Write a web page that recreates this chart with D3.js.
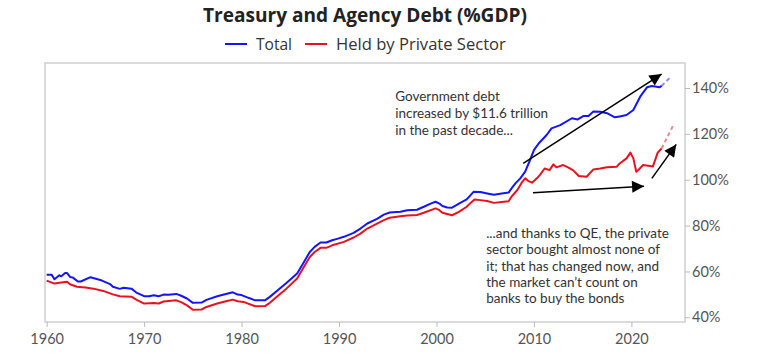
<!DOCTYPE html>
<html>
<head>
<meta charset="utf-8">
<script src="https://cdn.jsdelivr.net/npm/d3@7"></script>
<style>
  body { margin: 0; background: #fff; }
  svg { display: block; font-family: Lato, "Open Sans", sans-serif; }
</style>
</head>
<body>
<svg id="chart" width="771" height="361"></svg>
<script>
// series: [year, % of GDP]
const totalSeries = [
  [1960.0, 58.6], [1960.5, 58.6], [1960.8, 56.6], [1961.3, 58.3], [1961.5, 57.9], [1961.9, 59.3],
  [1962.1, 59.3], [1962.4, 57.6], [1962.7, 57.3], [1963.2, 55.6], [1963.5, 55.6], [1964.5, 57.5],
  [1965.5, 56.3], [1966.5, 54.5], [1966.8, 53.3], [1967.5, 52.4], [1967.9, 52.9], [1968.7, 52.5],
  [1969.2, 50.8], [1970.0, 49.2], [1970.5, 49.2], [1971.0, 49.6], [1971.5, 49.2], [1972.0, 49.9],
  [1972.5, 49.8], [1973.3, 50.2], [1973.8, 49.4], [1974.4, 48.2], [1975.0, 46.3], [1975.9, 46.4],
  [1976.4, 47.6], [1977.5, 49.2], [1978.5, 50.3], [1979.1, 50.9], [1979.6, 49.9], [1980.0, 49.7],
  [1980.7, 48.5], [1981.4, 47.4], [1982.4, 47.4], [1982.9, 48.9], [1983.8, 52.1], [1984.6, 55.0],
  [1985.7, 59.1], [1986.3, 63.4], [1987.0, 68.5], [1987.5, 70.7], [1988.1, 72.6], [1988.7, 72.6],
  [1989.3, 73.6], [1989.8, 74.2], [1990.5, 75.1], [1991.5, 76.8], [1992.2, 78.7], [1992.9, 80.9],
  [1993.9, 82.9], [1994.6, 84.8], [1995.2, 85.7], [1996.3, 86.0], [1997.0, 86.7], [1998.0, 86.9],
  [1998.7, 88.2], [1999.4, 89.6], [1999.9, 90.4], [2000.3, 89.6], [2000.6, 88.5], [2001.1, 87.9],
  [2001.6, 87.8], [2002.3, 89.6], [2003.1, 91.4], [2003.5, 93.3], [2003.8, 94.7], [2004.5, 94.6],
  [2005.2, 94.0], [2005.9, 93.4], [2006.7, 94.0], [2007.4, 94.4], [2007.7, 96.2], [2008.1, 98.4],
  [2008.6, 100.6], [2009.1, 103.5], [2009.6, 108.6], [2010.0, 112.9], [2010.5, 115.9], [2011.3, 119.5],
  [2011.8, 122.4], [2012.7, 123.8], [2013.9, 126.8], [2014.5, 126.3], [2015.1, 127.8], [2015.6, 127.8],
  [2016.1, 129.7], [2016.8, 129.6], [2017.5, 129.0], [2018.3, 127.2], [2018.8, 127.6], [2019.5, 128.2],
  [2020.2, 130.4], [2020.9, 136.2], [2021.6, 140.3], [2022.1, 140.9], [2022.9, 140.3], [2023.1, 140.9]
];
const totalProjection = [[2023.1, 140.9], [2024.1, 145.2]];

const privateSeries = [
  [1960.0, 56.0], [1960.8, 54.7], [1961.5, 55.2], [1962.1, 55.5], [1962.4, 54.4], [1963.1, 53.3],
  [1964.0, 53.0], [1964.8, 52.5], [1965.8, 51.5], [1966.8, 50.0], [1967.5, 49.2], [1968.7, 49.0],
  [1969.2, 47.7], [1970.0, 46.0], [1971.0, 46.2], [1971.5, 46.0], [1972.0, 46.9], [1973.3, 47.4],
  [1973.8, 46.6], [1974.4, 45.2], [1975.0, 43.3], [1975.9, 43.4], [1976.4, 44.5], [1977.5, 46.0],
  [1978.5, 47.1], [1979.1, 47.7], [1979.6, 47.0], [1980.2, 46.7], [1981.4, 44.8], [1982.4, 44.9],
  [1982.9, 46.3], [1983.8, 49.6], [1984.6, 52.5], [1985.7, 56.9], [1986.3, 61.3], [1987.0, 66.3],
  [1987.5, 68.5], [1988.1, 70.3], [1988.7, 70.3], [1989.3, 71.4], [1990.5, 72.9], [1991.5, 74.8],
  [1992.2, 76.5], [1992.9, 78.7], [1993.9, 80.9], [1994.6, 82.4], [1995.2, 83.4], [1996.3, 84.1],
  [1997.0, 84.4], [1998.0, 84.6], [1998.7, 85.6], [1999.9, 87.5], [2000.3, 86.7], [2000.6, 85.6],
  [2001.6, 84.5], [2002.3, 86.0], [2003.1, 88.2], [2003.5, 89.9], [2003.9, 91.4], [2004.5, 91.1],
  [2005.2, 90.7], [2005.9, 89.9], [2006.7, 90.3], [2007.4, 90.6], [2007.7, 92.6], [2008.3, 95.5],
  [2008.8, 99.1], [2009.1, 100.6], [2009.4, 99.5], [2009.8, 98.7], [2010.3, 100.6], [2010.6, 102.0],
  [2011.1, 104.9], [2011.6, 104.2], [2012.0, 106.7], [2012.3, 105.4], [2013.0, 106.4], [2013.5, 105.4],
  [2014.0, 104.2], [2014.6, 101.6], [2015.4, 101.3], [2016.1, 104.5], [2016.8, 104.9], [2017.5, 105.4],
  [2018.5, 105.7], [2018.8, 107.1], [2019.5, 109.3], [2019.9, 111.8], [2020.2, 109.3], [2020.5, 103.5],
  [2020.7, 104.2], [2021.2, 106.4], [2021.9, 106.0], [2022.2, 105.7], [2022.7, 111.8], [2023.1, 113.6]
];
const privateProjection = [[2023.1, 113.6], [2024.3, 123.8]];

const xTicks = [1960, 1970, 1980, 1990, 2000, 2010, 2020];
const yTicks = [40, 60, 80, 100, 120, 140];
const legendLabels = ['Total', 'Held by Private Sector'];

// arrows: [fromYear, fromValue, toYear, toValue]
const arrows = [
  [2008.9, 107.1, 2023.1, 146.1],
  [2009.9, 94.3, 2021.3, 97.2],
  [2022.1, 100.6, 2024.6, 115.4]
];
const noteTotal = ['Government debt', 'increased by $11.6 trillion', 'in the past decade...'];
const notePrivate = ['...and thanks to QE, the private', 'sector bought almost none of',
  'it; that has changed now, and', 'the market can\u2019t count on', 'banks to buy the bonds'];

const blue = '#1414ff';
const red = '#e8121f';
const plot = {left: 45, right: 685, top: 63, bottom: 322};

const svg = d3.select('#chart');

const xScale = d3.scaleLinear().domain([1959.83, 2025.5]).range([plot.left, plot.right]);
const yScale = d3.scaleLinear().domain([37.95, 150.9]).range([plot.bottom, plot.top]);

// scale a text element's font so it spans the wanted width
function fitWidth(sel, width) {
  const size = parseFloat(sel.style('font-size'));
  const len = sel.node().getComputedTextLength();
  sel.style('font-size', (size * width / len).toFixed(2) + 'px');
}

// title
const title = svg.append('text')
  .attr('x', (plot.left + plot.right) / 2)
  .attr('y', 22)
  .attr('text-anchor', 'middle')
  .style('font-family', '"Open Sans", sans-serif')
  .style('font-size', '17px')
  .style('font-weight', 'bold')
  .style('fill', '#222')
  .text('Treasury and Agency Debt (%GDP)');
fitWidth(title, 324);

// legend
const legend = svg.append('g').attr('transform', 'translate(225,44)');
const legendItems = [{label: legendLabels[0], color: blue, x: 0, w: 36}, {label: legendLabels[1], color: red, x: 80, w: 170}];
legendItems.forEach(item => {
  legend.append('line')
    .attr('x1', item.x).attr('x2', item.x + 22)
    .attr('y1', 0).attr('y2', 0)
    .attr('stroke', item.color).attr('stroke-width', 2);
  const t = legend.append('text')
    .attr('x', item.x + 31).attr('y', 5.5)
    .style('font-family', '"Open Sans", sans-serif')
    .style('font-size', '15px')
    .style('fill', '#333')
    .text(item.label);
  fitWidth(t, item.w);
});

// frame
svg.append('rect')
  .attr('x', plot.left).attr('y', plot.top)
  .attr('width', plot.right - plot.left).attr('height', plot.bottom - plot.top)
  .attr('fill', 'none').attr('stroke', '#cfcfcf').attr('stroke-width', 1.5);

// axes
const xAxis = svg.append('g')
  .attr('transform', 'translate(0,' + plot.bottom + ')')
  .call(d3.axisBottom(xScale).tickValues(xTicks).tickFormat(d3.format('d')).tickSize(5).tickSizeOuter(0));

const yAxis = svg.append('g')
  .attr('transform', 'translate(' + plot.right + ',0)')
  .call(d3.axisRight(yScale).tickValues(yTicks).tickFormat(d => d + '%').tickSize(5).tickSizeOuter(0));

[xAxis, yAxis].forEach(axis => {
  axis.select('.domain').remove();
  axis.selectAll('line').attr('stroke', '#bbb');
  axis.selectAll('text')
    .style('font-family', 'Lato, sans-serif')
    .style('font-size', '14.5px')
    .style('fill', '#555');
});
xAxis.selectAll('text').attr('dy', '0.95em');
yAxis.selectAll('text').attr('x', 7);

// lines
const line = d3.line().x(d => xScale(d[0])).y(d => yScale(d[1]));

const seriesDefs = [
  {data: totalSeries, color: blue, dashed: false},
  {data: totalProjection, color: blue, dashed: true},
  {data: privateSeries, color: red, dashed: false},
  {data: privateProjection, color: red, dashed: true}
];

svg.append('g').selectAll('path')
  .data(seriesDefs)
  .enter()
  .append('path')
  .attr('d', d => line(d.data))
  .attr('fill', 'none')
  .attr('stroke', d => d.color)
  .attr('stroke-width', 2)
  .attr('stroke-opacity', d => d.dashed ? 0.5 : 1)
  .attr('stroke-dasharray', d => d.dashed ? '4,3' : null)
  .attr('stroke-linejoin', 'round');

// arrows
svg.append('defs').append('marker')
  .attr('id', 'arrowHead')
  .attr('viewBox', '0 0 10 10')
  .attr('refX', 10).attr('refY', 5)
  .attr('markerWidth', 16).attr('markerHeight', 12)
  .attr('markerUnits', 'userSpaceOnUse')
  .attr('orient', 'auto')
  .append('path')
  .attr('d', 'M0,0L10,5L0,10Z')
  .attr('fill', '#000');

svg.append('g').selectAll('line')
  .data(arrows)
  .enter()
  .append('line')
  .attr('x1', d => xScale(d[0])).attr('y1', d => yScale(d[1]))
  .attr('x2', d => xScale(d[2])).attr('y2', d => yScale(d[3]))
  .attr('stroke', '#000')
  .attr('stroke-width', 1.5)
  .attr('marker-end', 'url(#arrowHead)');

// annotations
function note(lines, year, value, lineHeight) {
  const t = svg.append('text')
    .attr('x', xScale(year))
    .attr('y', yScale(value))
    .style('font-size', '13.5px')
    .style('fill', '#333');
  lines.forEach((s, i) => {
    t.append('tspan')
      .attr('x', xScale(year))
      .attr('dy', i === 0 ? '0.35em' : lineHeight)
      .text(s);
  });
}
note(noteTotal, 1995.76, 136.2, 16.7);
note(notePrivate, 2005.1, 76.6, 16.3);
</script>
</body>
</html>
